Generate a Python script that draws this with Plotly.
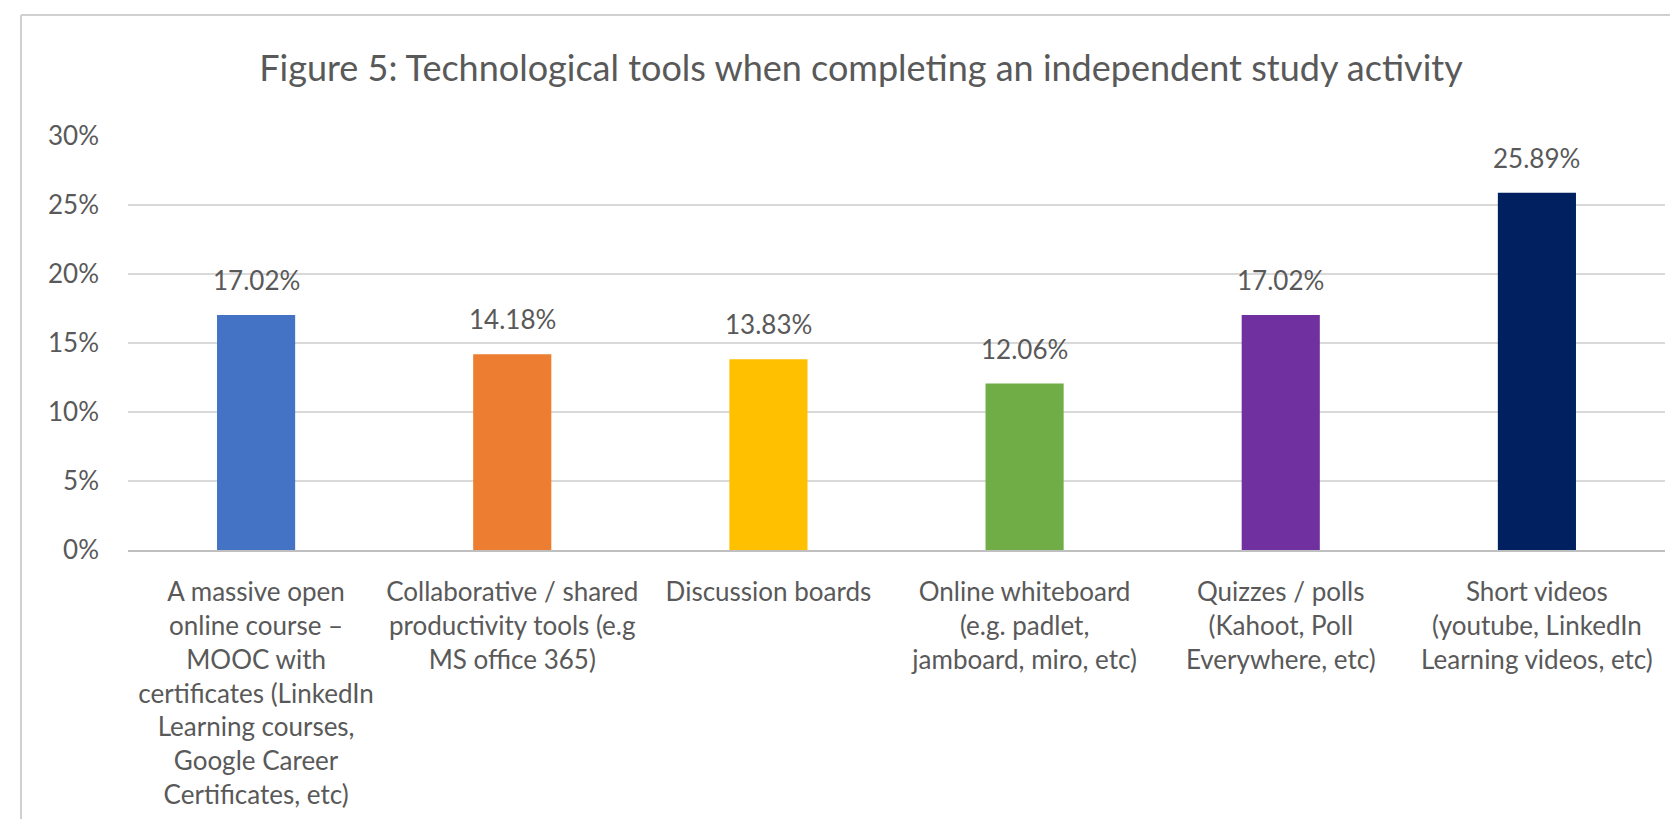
import plotly.graph_objects as go

categories = [
    "A massive open online course – MOOC with certificates (LinkedIn Learning courses, Google Career Certificates, etc)",
    "Collaborative / shared productivity tools (e.g MS office 365)",
    "Discussion boards",
    "Online whiteboard (e.g. padlet, jamboard, miro, etc)",
    "Quizzes / polls (Kahoot, Poll Everywhere, etc)",
    "Short videos (youtube, LinkedIn Learning videos, etc)",
]
tick_labels = [
    "A massive open<br>online course –<br>MOOC with<br>certificates (LinkedIn<br>Learning courses,<br>Google Career<br>Certificates, etc)",
    "Collaborative / shared<br>productivity tools (e.g<br>MS office 365)",
    "Discussion boards",
    "Online whiteboard<br>(e.g. padlet,<br>jamboard, miro, etc)",
    "Quizzes / polls<br>(Kahoot, Poll<br>Everywhere, etc)",
    "Short videos<br>(youtube, LinkedIn<br>Learning videos, etc)",
]
values = [0.1702, 0.1418, 0.1383, 0.1206, 0.1702, 0.2589]
colors = ["#4472C4", "#ED7D31", "#FFC000", "#70AD47", "#7030A0", "#002060"]
y_ticks = [0, 0.05, 0.10, 0.15, 0.20, 0.25, 0.30]
y_tick_text = ["0%", "5%", "10%", "15%", "20%", "25%", "30%"]
title_text = "Figure 5: Technological tools when completing an independent study activity"

FONT = "Lato, 'Open Sans', sans-serif"
TXT = "#595959"

W, H = 1678, 819
L, R, T, B = 120, 21, 128, 277

fig = go.Figure()
fig.add_trace(go.Bar(
    x=categories, y=values, marker=dict(color=colors, line=dict(width=0)),
    hoverinfo="skip", showlegend=False,
))

for c, v in zip(categories, values):
    fig.add_annotation(x=c, y=v, xref="x", yref="y", text=f"{v*100:.2f}%",
                       showarrow=False, yshift=35, yanchor="middle",
                       font=dict(family=FONT, size=26, color=TXT))

pw = W - L - R
ph = H - T - B
def px_x(p):
    return (p - L) / pw
def px_y(p):
    return (H - B - p) / ph

# chart border (left and top edges visible)
fig.add_shape(type="line", xref="paper", yref="paper",
              x0=px_x(13), x1=px_x(13), y0=px_y(7), y1=px_y(830),
              line=dict(color="#d0d0d0", width=2))
fig.add_shape(type="line", xref="paper", yref="paper",
              x0=px_x(13), x1=px_x(1690), y0=px_y(7), y1=px_y(7),
              line=dict(color="#d0d0d0", width=2))

fig.update_layout(
    width=W, height=H,
    margin=dict(l=L, r=R, t=T, b=B, autoexpand=False),
    paper_bgcolor="white", plot_bgcolor="white",
    bargap=0.695,
    title=dict(text=title_text, x=853 / W, xanchor="center",
               y=1 - 60 / H, yanchor="middle",
               font=dict(family=FONT, size=36, color=TXT)),
    font=dict(family=FONT, size=26, color=TXT),
    xaxis=dict(
        tickmode="array", tickvals=categories, ticktext=tick_labels,
        tickangle=0, showline=True, linecolor="#bfbfbf", linewidth=2,
        ticks="", showgrid=False, ticklabelstandoff=18,
        tickfont=dict(family=FONT, size=26, color=TXT),
        fixedrange=True,
    ),
    yaxis=dict(
        range=[0, 0.30], tickmode="array", tickvals=y_ticks, ticktext=y_tick_text,
        showgrid=True, gridcolor="#d9d9d9", gridwidth=1.5, zeroline=False,
        showline=False, ticks="", ticklabelstandoff=28,
        tickfont=dict(family=FONT, size=26, color=TXT),
        fixedrange=True,
    ),
)

fig.write_html("out.html")
